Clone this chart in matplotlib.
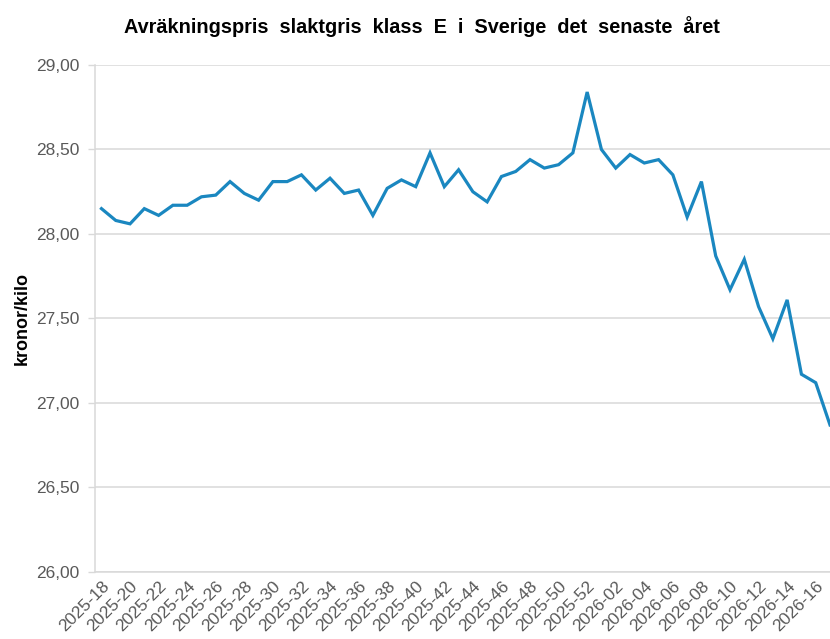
import matplotlib
matplotlib.use("Agg")
import matplotlib.pyplot as plt
import numpy as np

plt.rcParams['font.family'] = ['Liberation Sans', 'DejaVu Sans']

weeks = ['2025-18', '2025-19', '2025-20', '2025-21', '2025-22', '2025-23', '2025-24',
         '2025-25', '2025-26', '2025-27', '2025-28', '2025-29', '2025-30', '2025-31',
         '2025-32', '2025-33', '2025-34', '2025-35', '2025-36', '2025-37', '2025-38',
         '2025-39', '2025-40', '2025-41', '2025-42', '2025-43', '2025-44', '2025-45',
         '2025-46', '2025-47', '2025-48', '2025-49', '2025-50', '2025-51', '2025-52',
         '2026-01', '2026-02', '2026-03', '2026-04', '2026-05', '2026-06', '2026-07',
         '2026-08', '2026-09', '2026-10', '2026-11', '2026-12', '2026-13', '2026-14',
         '2026-15', '2026-16', '2026-17']

price = [28.15, 28.08, 28.06, 28.15, 28.11, 28.17, 28.17, 28.22, 28.23, 28.31,
         28.24, 28.20, 28.31, 28.31, 28.35, 28.26, 28.33, 28.24, 28.26, 28.11,
         28.27, 28.32, 28.28, 28.48, 28.28, 28.38, 28.25, 28.19, 28.34, 28.37,
         28.44, 28.39, 28.41, 28.48, 28.84,
         28.50, 28.39, 28.47, 28.42, 28.44, 28.35, 28.10, 28.31, 27.87, 27.67,
         27.85, 27.57, 27.38, 27.61, 27.17, 27.12, 26.87]

yticks = [26.0, 26.5, 27.0, 27.5, 28.0, 28.5, 29.0]

fig = plt.figure(figsize=(8.3, 6.39), dpi=100)
ax = fig.add_axes([0.1145, 0.1049, 0.8855, 0.7934])

x = np.arange(len(weeks))
ax.plot(x, price, color='#1a87c0', lw=2.3, solid_joinstyle='miter', zorder=3)

ax.set_ylim(26, 29)
ax.set_xlim(-0.45, len(weeks) - 1)
ax.set_yticks(yticks)
ax.set_yticklabels([f'{v:.2f}'.replace('.', ',') for v in yticks])
ax.grid(axis='y', color='#d9d9d9', lw=1.1)
ax.set_axisbelow(True)

ax.set_xticks(x[::2])
ax.set_xticklabels(weeks[::2], rotation=45, ha='right', rotation_mode='anchor')

for s in ['top', 'right']:
    ax.spines[s].set_visible(False)
ax.spines['left'].set_color('#d9d9d9')
ax.spines['bottom'].set_color('#d9d9d9')
ax.spines['left'].set_linewidth(1.1)
ax.spines['bottom'].set_linewidth(1.1)
ax.tick_params(axis='y', colors='#595959', labelsize=12.5, length=5, width=1, pad=6)
ax.tick_params(axis='y', color='#d9d9d9')
ax.tick_params(axis='x', colors='#595959', labelsize=12.5, length=0, pad=5)

ax.set_ylabel('kronor/kilo', fontsize=13, fontweight='bold', color='black')
ax.yaxis.set_label_coords(-0.088, 0.5)
fig.suptitle('Avräkningspris  slaktgris  klass  E  i  Sverige  det  senaste  året',
             x=0.508, y=0.975, fontsize=14.3, fontweight='bold')

fig.savefig('out.png', dpi=100)
